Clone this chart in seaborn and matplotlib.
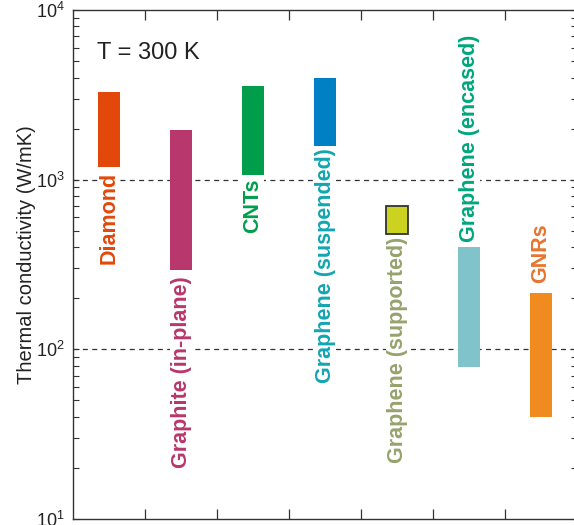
import numpy as np
import pandas as pd
import matplotlib
matplotlib.use("Agg")
import matplotlib.pyplot as plt
import seaborn as sns
from matplotlib.ticker import LogLocator, LogFormatterSciNotation, NullFormatter, FixedLocator

# Room-temperature thermal conductivity ranges (W/mK)
materials = ["Diamond", "Graphite (in-plane)", "CNTs", "Graphene (suspended)",
             "Graphene (supported)", "Graphene (encased)", "GNRs"]
k_low = [1180, 295, 1070, 1580, 480, 79, 40]
k_high = [3300, 1950, 3550, 4000, 700, 400, 215]

bar_colors = ["#E2480A", "#B8376C", "#009E4A", "#0080C4", "#CBD220", "#80C3CA", "#EF8B1F"]
text_colors = ["#E2480A", "#B8376C", "#009E4A", "#12A5B2", "#97A26D", "#00A67C", "#E8742E"]
label_side = ["below", "below", "below", "below", "below", "above", "above"]
label_gap = [3, 5, 2.5, 1.5, 2.5, 3.5, 7]   # points between bar end and its label

sns.set_style("white")
plt.rcParams["font.family"] = ["Liberation Sans", "DejaVu Sans"]
plt.rcParams["mathtext.fontset"] = "custom"
plt.rcParams["mathtext.rm"] = "Liberation Sans"
plt.rcParams["mathtext.it"] = "Liberation Sans:italic"
plt.rcParams["mathtext.bf"] = "Liberation Sans:bold"

fig = plt.figure(figsize=(5.74, 5.25), dpi=100)
ax = fig.add_axes([73 / 574, 6 / 525, 504 / 574, 509 / 525])

df = pd.DataFrame({
    "material": materials,
    "pos": np.arange(len(materials)) + 0.5,
    "low": k_low,
    "high": k_high,
})
df["span"] = df["high"] - df["low"]

# Floating bars: height = range, bottom = lower bound
sns.barplot(data=df, x="pos", y="span", native_scale=True, width=0.3,
            errorbar=None, bottom=df["low"].to_numpy(), color=bar_colors[0],
            linewidth=0, ax=ax, zorder=3)

for patch, fc, name in zip(ax.patches, bar_colors, materials):
    patch.set_facecolor(fc)
    if name == "Graphene (supported)":
        patch.set_edgecolor("#333333")
        patch.set_linewidth(1.3)
    else:
        patch.set_edgecolor("none")

ax.set_yscale("log")
ax.set_ylim(10, 1e4)
ax.set_xlim(0, 7)

# Reference levels
for level in (100, 1000):
    ax.axhline(level, color="#333333", lw=0.9, dashes=(4, 3.5), zorder=1)

# Material labels, rotated, next to each bar
for i, row in df.iterrows():
    if label_side[i] == "below":
        xy, off, va = (row["pos"], row["low"]), (0, -label_gap[i]), "top"
    else:
        xy, off, va = (row["pos"], row["high"]), (0, label_gap[i]), "bottom"
    ax.annotate(row["material"], xy=xy, xytext=off, textcoords="offset points",
                rotation=90, ha="center", va=va, fontsize=15.5, fontweight="bold",
                color=text_colors[i], zorder=4,
                bbox=dict(facecolor="white", edgecolor="none", pad=0.6))

ax.text(0.047, 0.915, "T = 300 K", transform=ax.transAxes, fontsize=17,
        ha="left", va="center", color="#222222")

# Axes styling
ax.yaxis.set_major_locator(LogLocator(base=10, numticks=10))
ax.yaxis.set_major_formatter(LogFormatterSciNotation())
ax.yaxis.set_minor_locator(LogLocator(base=10, subs=np.arange(2, 10), numticks=20))
ax.yaxis.set_minor_formatter(NullFormatter())
ax.xaxis.set_major_locator(FixedLocator([1, 2, 3, 4, 5, 6]))

ax.tick_params(axis="y", which="both", direction="in", left=True, right=True,
               length=4.5, width=0.8, color="#333333", labelsize=13, pad=6,
               labelcolor="#222222")
ax.tick_params(axis="x", which="major", direction="in", bottom=True, top=True,
               length=7.5, width=0.9, color="#333333", labelbottom=False)

for sp in ax.spines.values():
    sp.set_color("#333333")
    sp.set_linewidth(1.0)
    sp.set_visible(True)

ax.set_xlabel("")
ax.set_ylabel("Thermal conductivity (W/mK)", fontsize=14.5, color="#222222")
ax.yaxis.set_label_coords(-0.074, 0.52)

fig.savefig("out.png", dpi=100)
